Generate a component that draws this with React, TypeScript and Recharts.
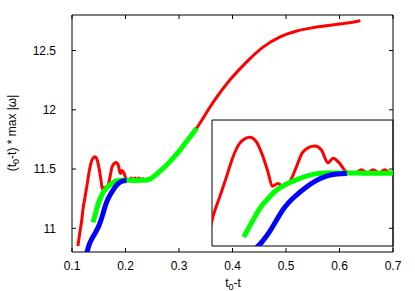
import { Line, LineChart, ReferenceArea, XAxis, YAxis } from 'recharts'

const font = '"Liberation Sans", Arial, Helvetica, sans-serif'

const xTicks = [0.1, 0.2, 0.3, 0.4, 0.5, 0.6, 0.7]
const yTicks = [11, 11.5, 12, 12.5]

// red run (whole curve)
const redT = [
  0.111, 0.1145, 0.118, 0.1205, 0.1247, 0.1288, 0.1328, 0.1368, 0.1429, 0.147, 0.151, 0.154, 0.1567,
  0.1601, 0.1632, 0.1672, 0.1713, 0.1753, 0.1824, 0.1865, 0.1905, 0.1936, 0.1976, 0.2017, 0.2045,
  0.2072, 0.2108, 0.2143, 0.2179, 0.2215, 0.225, 0.2285, 0.232, 0.236, 0.242, 0.2517, 0.264, 0.276,
  0.289, 0.302, 0.314, 0.324, 0.333, 0.339, 0.364, 0.395, 0.4266, 0.4577, 0.489, 0.52, 0.551, 0.5826,
  0.614, 0.639,
]
const redW = [
  10.85, 10.96, 11.06, 11.16, 11.273, 11.384, 11.496, 11.57, 11.604, 11.579, 11.496, 11.412, 11.332,
  11.347, 11.332, 11.356, 11.44, 11.523, 11.555, 11.533, 11.462, 11.487, 11.459, 11.412, 11.408,
  11.405, 11.424, 11.405, 11.424, 11.405, 11.424, 11.405, 11.418, 11.406, 11.41, 11.433, 11.48, 11.53,
  11.592, 11.66, 11.732, 11.79, 11.845, 11.887, 12.065, 12.251, 12.405, 12.531, 12.615, 12.665, 12.694,
  12.713, 12.732, 12.752,
]

// green run
const greenT = [
  0.1393, 0.1449, 0.149, 0.1531, 0.1591, 0.1652, 0.1733, 0.1814, 0.1895, 0.2017, 0.215, 0.23, 0.242,
  0.2517, 0.264, 0.276, 0.289, 0.302, 0.314, 0.324, 0.333,
]
const greenW = [
  11.05, 11.143, 11.208, 11.254, 11.31, 11.344, 11.375, 11.398, 11.406, 11.406, 11.404, 11.405, 11.41,
  11.433, 11.48, 11.53, 11.592, 11.66, 11.732, 11.79, 11.845,
]

// blue run
const blueT = [
  0.127, 0.132, 0.137, 0.142, 0.147, 0.151, 0.155, 0.159, 0.163, 0.167, 0.171, 0.177, 0.183, 0.19,
  0.196, 0.202,
]
const blueW = [
  10.78, 10.86, 10.91, 10.95, 10.99, 11.03, 11.08, 11.14, 11.2, 11.245, 11.28, 11.325, 11.362, 11.39,
  11.4, 11.403,
]

const toPoints = (t: number[], w: number[]) => t.map((x, i) => ({ x, y: w[i] }))

const red = toPoints(redT, redW)
const green = toPoints(greenT, greenW)
const blue = toPoints(blueT, blueW)

const fmtY = (v: number) => String(v)
const noLabel = () => <g />

function XTitle() {
  return (
    <text x={233} y={287} textAnchor="middle" fontSize={12} fontFamily={font} fill="#000">
      t
      <tspan fontSize={9} dy={3}>
        0
      </tspan>
      <tspan dy={-3}>-t</tspan>
    </text>
  )
}

function YTitle() {
  return (
    <text
      x={16}
      y={133}
      transform="rotate(-90 16 133)"
      textAnchor="middle"
      fontSize={12}
      fontFamily={font}
      fill="#000"
    >
      (t
      <tspan fontSize={9} dy={3}>
        0
      </tspan>
      <tspan dy={-3}>-t) * max |ω|</tspan>
    </text>
  )
}

function Curves({ main }: { main: boolean }) {
  const id = main ? 'l' : 0
  return [
    <Line key="r" yAxisId={id} data={red} dataKey="y" type="monotone" stroke="#ff0000" strokeWidth={3} dot={false} isAnimationActive={false} />,
    <Line key="g" yAxisId={id} data={green} dataKey="y" type="monotone" stroke="#00ff00" strokeWidth={5} dot={false} isAnimationActive={false} />,
    <Line key="b" yAxisId={id} data={blue} dataKey="y" type="monotone" stroke="#0000ff" strokeWidth={5} dot={false} isAnimationActive={false} />,
  ]
}

export default function App() {
  const tickStyle = { fill: '#000', fontSize: 12, fontFamily: font }
  return (
    <div style={{ position: 'absolute', left: 0, top: 0, width: 415, height: 291, background: '#fff' }}>
      <LineChart width={415} height={291} margin={{ top: 5, right: 12, bottom: 9, left: 12 }}>
        <XAxis
          type="number"
          dataKey="x"
          domain={[0.1, 0.7]}
          ticks={xTicks}
          allowDataOverflow
          axisLine={false}
          tickSize={-4}
          tickMargin={13}
          height={30}
          tick={tickStyle}
          tickLine={{ stroke: '#000' }}
          tickFormatter={(v: number) => v.toFixed(1)}
          label={<XTitle />}
        />
        <XAxis
          xAxisId="top"
          orientation="top"
          type="number"
          dataKey="x"
          domain={[0.1, 0.7]}
          ticks={xTicks}
          allowDataOverflow
          axisLine={false}
          tickSize={-4}
          height={10}
          tick={noLabel}
          tickLine={{ stroke: '#000' }}
        />
        <YAxis
          yAxisId="l"
          type="number"
          domain={[10.8, 12.8]}
          ticks={yTicks}
          allowDataOverflow
          width={60}
          axisLine={false}
          tickSize={-4}
          tickMargin={20}
          tick={tickStyle}
          tickLine={{ stroke: '#000' }}
          tickFormatter={fmtY}
          label={<YTitle />}
        />
        <YAxis
          yAxisId="r"
          orientation="right"
          type="number"
          domain={[10.8, 12.8]}
          ticks={yTicks}
          allowDataOverflow
          width={10}
          axisLine={false}
          tickSize={-4}
          tick={noLabel}
          tickLine={{ stroke: '#000' }}
        />
        {Curves({ main: true })}
        <ReferenceArea yAxisId="l" x1={0.1} x2={0.7} y1={10.8} y2={12.8} fill="none" stroke="#000" strokeWidth={1} />
      </LineChart>

      <div style={{ position: 'absolute', left: 211, top: 119, width: 183, height: 128 }}>
        <LineChart width={183} height={128} margin={{ top: 1, right: 1, bottom: 1, left: 1 }}>
          <XAxis type="number" dataKey="x" domain={[0.12, 0.23]} allowDataOverflow hide />
          <YAxis type="number" domain={[11, 11.7]} allowDataOverflow hide />
          {Curves({ main: false })}
          <ReferenceArea x1={0.12} x2={0.23} y1={11} y2={11.7} fill="none" stroke="#000" strokeWidth={1} />
        </LineChart>
      </div>
    </div>
  )
}
